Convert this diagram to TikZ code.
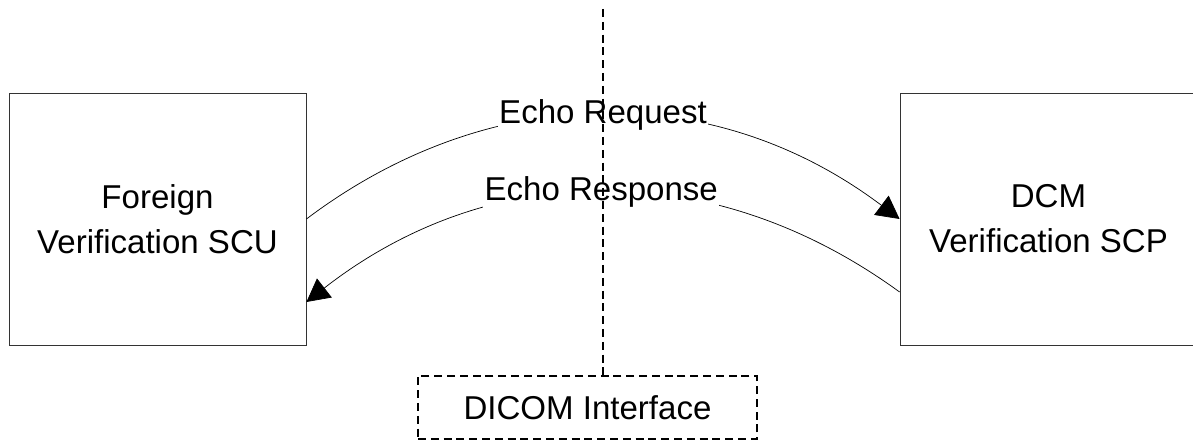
\documentclass[tikz,border=0pt]{standalone}
\usepackage{fontspec}
\setmainfont{Liberation Sans}
\usetikzlibrary{arrows.meta}

\begin{document}
\begin{tikzpicture}[
	every node/.style={font=\fontsize{23.5}{32}\selectfont, align=center},
	entity/.style={draw=black!80, line width=0.6pt, minimum width=7.425cm, minimum height=6.3cm},
	msg/.style={line width=0.5pt, -{Triangle[length=0.57cm, width=0.6cm]}},
	boundary/.style={line width=0.8pt, dash pattern=on 0.2cm off 0.12cm}]
		\useasboundingbox (0,0) rectangle (29.825,11.15);
		% kedua aplikasi
		\node[entity] (scu) at (3.9375,5.675) {Foreign\\Verification SCU};
		\node[entity] (scp) at (26.2125,5.675) {DCM\\Verification SCP};
		
		% pesan echo
		\draw[msg] (scu.east) to[bend left=37] node[fill=white, inner sep=1pt] {Echo Request} (scp.west);
		\draw[msg] ([yshift=-1.825cm]scp.west) to[bend right=37] node[fill=white, inner sep=1pt] {Echo Response} ([yshift=-2.075cm]scu.east);
		
		% batas antarmuka
		\node[draw, boundary, minimum width=8.475cm, minimum height=1.575cm] (iface) at (14.6875,0.9625) {DICOM Interface};
		\coordinate (top) at (15.075,10.925);
		\draw[boundary] (top) -- (top |- iface.north);
		
	\end{tikzpicture}
\end{document}
